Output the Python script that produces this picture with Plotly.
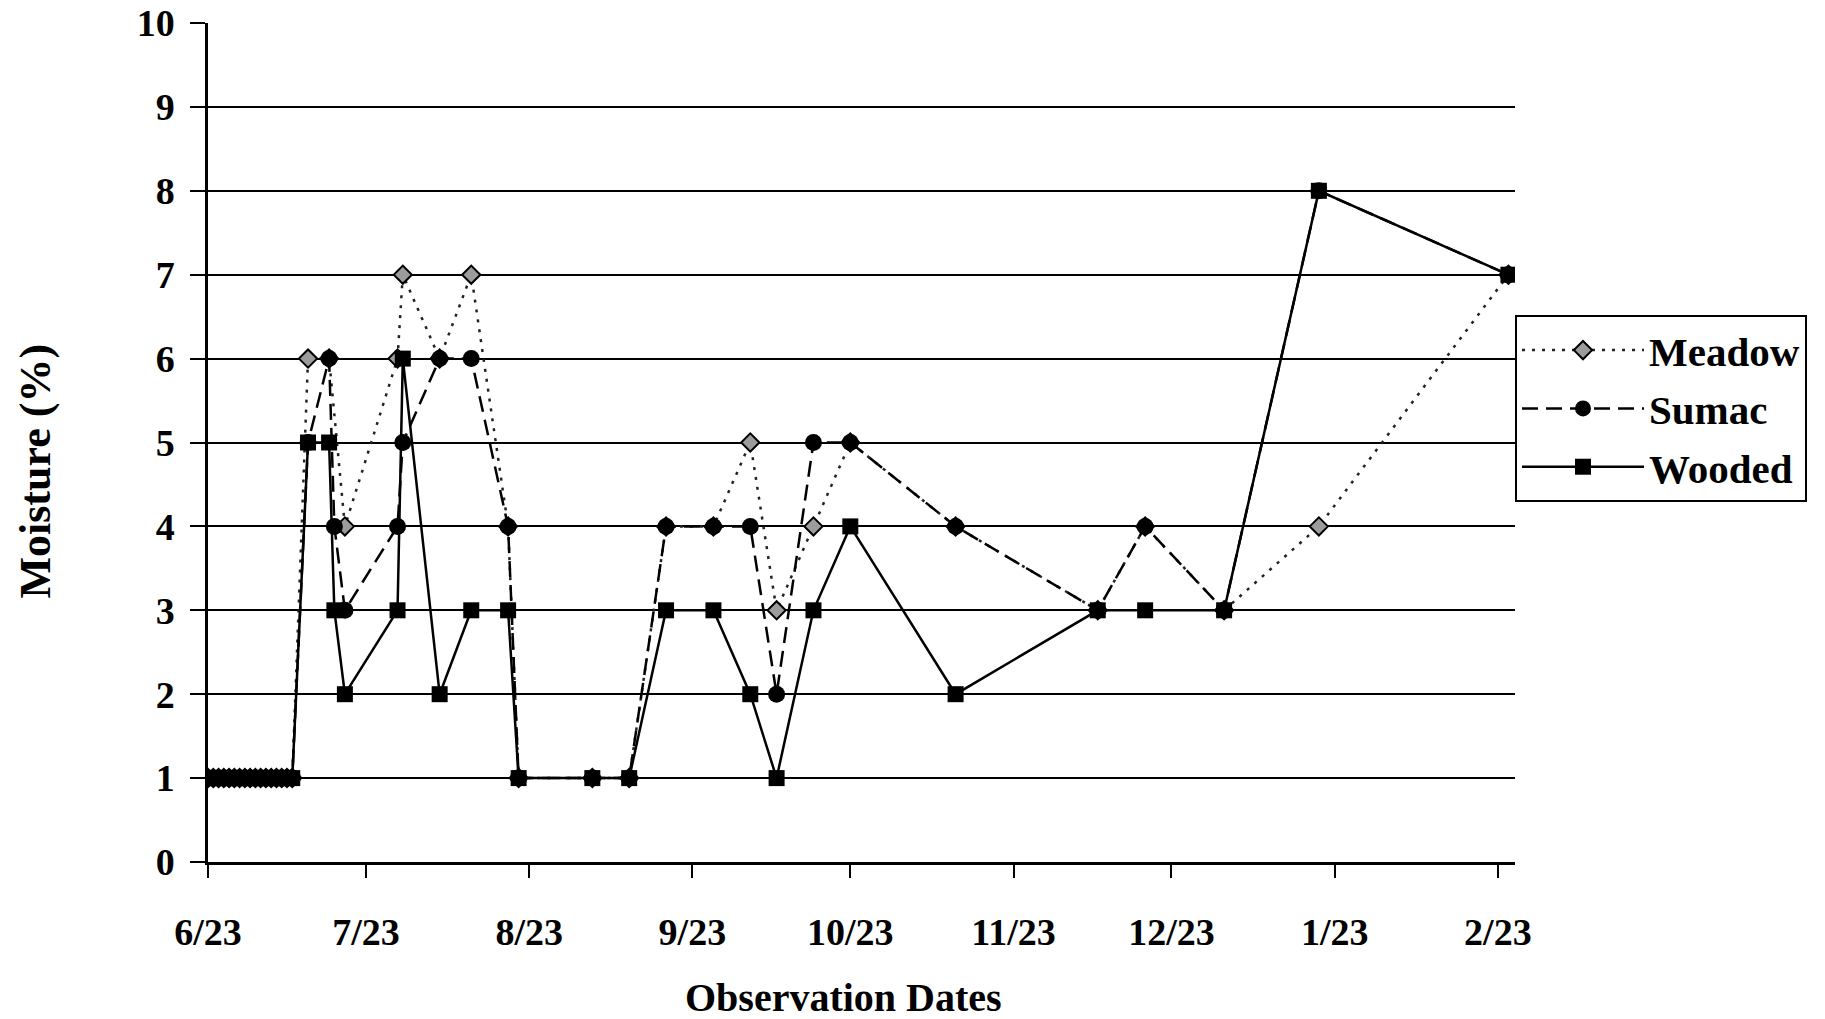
import plotly.graph_objects as go

# Observation dates (year arbitrary; only month/day shown)
dates = [
    "2002-06-23", "2002-06-24", "2002-06-25", "2002-06-26", "2002-06-27", "2002-06-28",
    "2002-06-29", "2002-06-30", "2002-07-01", "2002-07-02", "2002-07-03", "2002-07-04",
    "2002-07-05", "2002-07-06", "2002-07-07", "2002-07-08", "2002-07-09",
    "2002-07-12", "2002-07-16", "2002-07-17", "2002-07-19", "2002-07-29", "2002-07-30",
    "2002-08-06", "2002-08-12", "2002-08-19", "2002-08-21", "2002-09-04", "2002-09-11",
    "2002-09-18", "2002-09-27", "2002-10-04", "2002-10-09", "2002-10-16", "2002-10-23",
    "2002-11-12", "2002-12-09", "2002-12-18", "2003-01-02", "2003-01-20", "2003-02-25",
]

meadow = [1, 1, 1, 1, 1, 1, 1, 1, 1, 1, 1, 1, 1, 1, 1, 1, 1,
          6, 6, None, 4, 6, 7, 6, 7, 4, 1, 1, 1,
          4, 4, 5, 3, 4, 5, 4, 3, 4, 3, 4, 7]
sumac = [1, 1, 1, 1, 1, 1, 1, 1, 1, 1, 1, 1, 1, 1, 1, 1, 1,
         5, 6, 4, 3, 4, 5, 6, 6, 4, 1, 1, 1,
         4, 4, 4, 2, 5, 5, 4, 3, 4, 3, 8, 7]
wooded = [1, 1, 1, 1, 1, 1, 1, 1, 1, 1, 1, 1, 1, 1, 1, 1, 1,
          5, 5, 3, 2, 3, 6, 2, 3, 3, 1, 1, 1,
          3, 3, 2, 1, 3, 4, 2, 3, 3, 3, 8, 7]

tick_dates = ["2002-06-23", "2002-07-23", "2002-08-23", "2002-09-23", "2002-10-23",
              "2002-11-23", "2002-12-23", "2003-01-23", "2003-02-23"]
tick_labels = ["6/23", "7/23", "8/23", "9/23", "10/23", "11/23", "12/23", "1/23", "2/23"]
y_ticks = list(range(0, 11))

SERIF = "Liberation Serif, Times New Roman, serif"

fig = go.Figure()
fig.add_trace(go.Scatter(
    x=dates, y=meadow, name="Meadow", mode="lines+markers", connectgaps=True,
    legendgroup="m",
    line=dict(color="#222222", width=2.5, dash="3px,7px"),
    marker=dict(symbol="diamond", size=14, color="#9c9c9c", line=dict(color="black", width=2)),
))
fig.add_trace(go.Scatter(
    x=dates, y=sumac, name="Sumac", mode="lines+markers", legendgroup="s",
    line=dict(color="black", width=2.5, dash="16px,8px"),
    marker=dict(symbol="circle", size=17, color="black"),
))
fig.add_trace(go.Scatter(
    x=dates, y=wooded, name="Wooded", mode="lines+markers", legendgroup="w",
    line=dict(color="black", width=2.5),
    marker=dict(symbol="square", size=16, color="black"),
))

fig.update_layout(
    width=1825, height=1019,
    margin=dict(l=208, r=310, t=23, b=157),
    paper_bgcolor="white", plot_bgcolor="white",
    font=dict(family=SERIF, color="black"),
    showlegend=True,
    legend=dict(
        x=1.0, xanchor="left", y=0.652, yanchor="top",
        bgcolor="white", bordercolor="black", borderwidth=2,
        font=dict(family=SERIF, size=41, color="black", weight="bold"),
        itemwidth=122, tracegroupgap=2,
    ),
    xaxis=dict(
        type="date", automargin=False,
        range=["2002-06-23", "2003-02-26 06:00"],
        tickvals=tick_dates, ticktext=tick_labels,
        showgrid=False, zeroline=False,
        showline=True, linecolor="black", linewidth=2.5,
        ticks="outside", ticklen=13, tickwidth=2, tickcolor="black",
        tickfont=dict(family=SERIF, size=38, color="black", weight="bold"),
        ticklabelstandoff=22,
    ),
    yaxis=dict(
        range=[0, 10], tickvals=y_ticks, automargin=False,
        showgrid=True, gridcolor="black", gridwidth=2,
        zeroline=False,
        showline=True, linecolor="black", linewidth=2.5,
        ticks="outside", ticklen=15, tickwidth=2, tickcolor="black",
        tickfont=dict(family=SERIF, size=38, color="black", weight="bold"),
        ticklabelstandoff=8,
    ),
    annotations=[
        dict(text="Moisture (%)", xref="paper", yref="paper", x=-0.132, y=0.466,
             xanchor="center", yanchor="middle", textangle=-90, showarrow=False,
             font=dict(family=SERIF, size=44, color="black", weight="bold")),
        dict(text="Observation Dates", xref="paper", yref="paper", x=0.486, y=-0.161,
             xanchor="center", yanchor="middle", showarrow=False,
             font=dict(family=SERIF, size=40, color="black", weight="bold")),
    ],
)

fig.write_html("out.html")
